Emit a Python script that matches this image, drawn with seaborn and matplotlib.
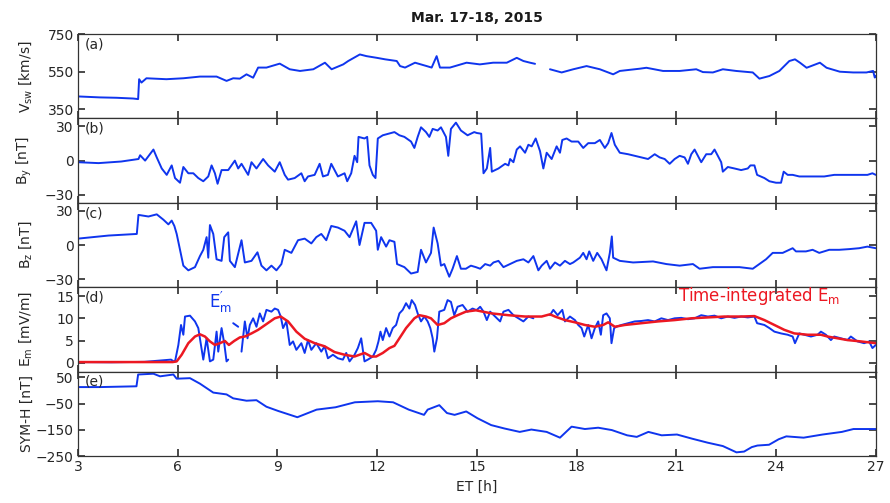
import numpy as np
import pandas as pd
import matplotlib
matplotlib.use("Agg")
import matplotlib.pyplot as plt
import seaborn as sns

# ---------------- data (ET in hours) ----------------
# Solar wind speed (data gap near 17 h)
vsw_t = [3.02, 3.66, 4.16, 4.66, 4.81, 4.84, 4.91, 5.06, 5.66, 6.17, 6.67, 7.17, 7.47, 7.67,
         7.87, 8.07, 8.27, 8.42, 8.67, 9.07, 9.37, 9.68, 10.08, 10.43, 10.63, 10.98, 11.13,
         11.48, 11.68, 11.99, 12.24, 12.59, 12.69, 12.84, 13.14, 13.49, 13.64, 13.79, 13.89,
         14.19, 14.69, 15.09, 15.49, 15.9, 16.2, 16.4, 16.6, 16.75,
         17.2, 17.55, 17.9, 18.3, 18.7, 19.1, 19.3, 19.9, 20.1, 20.6, 21.1, 21.6, 21.8,
         22.1, 22.4, 22.8, 23.3, 23.5, 23.8, 24.1, 24.4, 24.57, 24.72, 24.92, 25.32, 25.52,
         25.92, 26.32, 26.72, 26.92, 26.97, 27.0]
vsw_v = [417, 412, 410, 406, 403, 509, 491, 514, 509, 514, 523, 523, 500, 514,
         512, 535, 517, 571, 571, 592, 562, 553, 562, 597, 562, 588, 606,
         641, 632, 623, 615, 606, 579, 571, 597, 579, 571, 632, 571,
         571, 597, 588, 597, 597, 623, 606, 597, 591,
         562, 545, 562, 579, 562, 535, 553, 565, 570, 553, 553, 562, 547,
         545, 562, 553, 545, 512, 526, 553, 606, 615, 597, 570, 597, 570,
         549, 545, 545, 553, 518, 527]
vsw_breaks = [17.0]

# IMF By
by_t = [3.0, 3.62, 4.3, 4.82, 4.87, 5.02, 5.27, 5.37, 5.52, 5.67, 5.82, 5.92, 6.07, 6.17,
        6.32, 6.47, 6.62, 6.77, 6.92, 7.02, 7.12, 7.2, 7.32, 7.52, 7.72, 7.82, 7.92, 8.12,
        8.22, 8.37, 8.57, 8.72, 8.92, 9.07, 9.22, 9.32, 9.52, 9.72, 9.82, 9.92, 10.12, 10.27,
        10.37, 10.52, 10.62, 10.82, 11.02, 11.1, 11.22, 11.32, 11.4, 11.44, 11.62, 11.7,
        11.77, 11.87, 11.95, 12.02, 12.17, 12.52, 12.67, 12.82, 13.02, 13.12, 13.22, 13.32,
        13.47, 13.57, 13.67, 13.82, 13.92, 14.07, 14.14, 14.22, 14.37, 14.52, 14.72, 14.92,
        15.0, 15.13, 15.2, 15.3, 15.4, 15.45, 15.65, 15.85, 15.95, 16.0, 16.1, 16.2, 16.3,
        16.45, 16.55, 16.65, 16.77, 16.9, 17.0, 17.1, 17.25, 17.4, 17.5, 17.57, 17.7, 17.85,
        18.05, 18.2, 18.35, 18.55, 18.7, 18.85, 18.95, 19.05, 19.15, 19.3, 19.55, 19.75,
        19.95, 20.15, 20.35, 20.5, 20.65, 20.8, 20.95, 21.1, 21.25, 21.35, 21.45, 21.55,
        21.65, 21.75, 21.9, 22.05, 22.15, 22.25, 22.35, 22.4, 22.55, 22.75, 22.95, 23.15,
        23.23, 23.35, 23.43, 23.65, 23.8, 24.0, 24.15, 24.23, 24.35, 24.5, 24.7, 24.95,
        25.45, 25.75, 26.15, 26.75, 26.9, 27.0]
by_v = [-1.4, -2.2, -0.8, 1.4, 4.7, 0.0, 9.7, 2.8, -6.9, -12.5, -4.2, -15.3, -19.4, -5.6,
        -11.1, -11.1, -15.3, -18.1, -13.9, -4.2, -11.1, -20.3, -8.3, -8.3, 0.0, -6.9, -2.8, -12.5,
        -1.4, -6.9, 1.4, -4.2, -9.7, -1.4, -12.5, -16.7, -15.3, -11.1, -18.1, -13.9, -12.5, -2.8,
        -13.9, -12.5, -2.8, -13.9, -11.1, -18.1, -11.1, 4.2, -1.4, 20.8, 19.4, 20.8,
        -4.2, -12.5, -15.3, 19.4, 22.2, 25.0, 22.2, 20.8, 16.7, 11.1, 20.8, 29.2,
        25.0, 20.8, 27.8, 26.4, 29.2, 20.8, 4.2, 27.8, 33.3, 26.4, 22.2, 25.0,
        24.2, 23.6, -11.1, -6.9, 11.1, -9.7, -6.9, -2.8, -4.2, 1.4, -1.4, 9.7, 12.5,
        6.9, 13.9, 12.5, 19.4, 8.3, -6.9, 6.9, 1.4, 12.5, 6.9, 18.1, 19.4, 16.7,
        16.7, 11.1, 15.3, 15.3, 18.1, 11.1, 15.3, 24.2, 13.9, 6.9, 5.6, 4.2,
        2.8, 1.4, 5.6, 2.8, 1.4, -2.8, 1.4, 4.2, 2.8, -2.8, 5.6, 9.7,
        4.2, -1.4, 5.6, 5.6, 9.7, 4.2, -1.4, -9.7, -5.6, -6.9, -8.3, -6.9,
        -4.2, -4.2, -12.5, -15.3, -18.1, -19.4, -19.4, -9.7, -12.5, -12.5, -13.9, -13.9,
        -13.9, -12.5, -12.5, -12.5, -11.1, -12.5]

# IMF Bz
bz_t = [3.0, 3.92, 4.77, 4.82, 5.12, 5.37, 5.57, 5.72, 5.82, 5.9, 5.97, 6.07, 6.17, 6.32,
        6.52, 6.67, 6.77, 6.87, 6.92, 6.97, 7.07, 7.17, 7.32, 7.4, 7.52, 7.57, 7.72, 7.92,
        8.02, 8.22, 8.4, 8.52, 8.67, 8.82, 8.97, 9.12, 9.22, 9.42, 9.62, 9.82, 10.02, 10.17,
        10.32, 10.47, 10.62, 10.82, 11.02, 11.17, 11.37, 11.47, 11.62, 11.82, 11.97, 12.02,
        12.12, 12.27, 12.37, 12.52, 12.6, 12.82, 13.02, 13.22, 13.32, 13.47, 13.62, 13.7,
        13.82, 13.92, 14.02, 14.17, 14.27, 14.4, 14.52, 14.67, 14.82, 14.97,
        15.1, 15.25, 15.4, 15.5, 15.65, 15.8, 16.0, 16.2, 16.4, 16.55, 16.7, 16.85, 16.95,
        17.1, 17.2, 17.35, 17.5, 17.65, 17.8, 17.9, 18.1, 18.2, 18.3, 18.38, 18.5, 18.62,
        18.75, 18.9, 19.0, 19.06, 19.1, 19.3, 19.7, 20.3, 20.7, 21.1, 21.5, 21.7, 22.1,
        22.5, 22.9, 23.3, 23.5, 23.7, 23.9, 24.2, 24.5, 24.6, 24.9, 25.1, 25.3, 25.6,
        25.9, 26.2, 26.5, 26.75, 27.0]
bz_v = [5.6, 8.3, 9.7, 26.4, 25.0, 26.9, 22.2, 18.1, 21.4, 16.7, 9.7, -4.2, -18.1, -22.2,
        -19.4, -9.7, -4.2, 6.9, -11.1, 17.5, 9.7, -12.5, -13.9, 6.9, 11.1, -13.9, -19.4, 4.2,
        -15.3, -13.9, -6.4, -18.1, -22.2, -18.1, -22.2, -16.7, -4.2, -6.9, 4.2, 5.6, 1.4, 6.9,
        9.7, 4.2, 16.7, 15.3, 12.5, 6.9, 20.8, 0.0, 19.4, 19.4, 12.5, -4.2,
        6.9, -1.4, 4.2, 2.8, -16.7, -19.4, -25.0, -23.6, -4.2, -15.3, -6.9, 15.3,
        1.4, -18.1, -16.7, -27.8, -20.8, -9.7, -20.8, -20.8, -18.1, -19.4,
        -20.8, -16.7, -18.1, -15.3, -13.9, -19.4, -16.7, -13.9, -12.5, -15.3, -9.7, -22.2, -18.1,
        -13.9, -20.8, -15.3, -18.1, -13.9, -16.7, -15.3, -11.1, -6.9, -12.5, -5.6, -13.9, -6.9,
        -12.5, -22.2, -6.9, 7.5, -11.1, -13.9, -15.3, -14.4, -16.7, -18.1, -16.7, -20.8, -19.4,
        -19.4, -19.4, -20.8, -16.7, -12.5, -6.9, -6.9, -2.8, -5.6, -5.6, -4.2, -6.9, -4.2,
        -4.2, -3.6, -2.8, -1.4, -2.8]

# Merging electric field E'm
em_t = [3.0, 4.0, 5.0, 5.8, 5.9, 5.92, 6.02, 6.1, 6.17, 6.22, 6.37, 6.52, 6.62, 6.7, 6.77,
        6.87, 6.97, 7.07, 7.17, 7.22, 7.32, 7.4, 7.47, 7.52,
        7.67, 7.82,
        7.92, 8.02, 8.1, 8.17, 8.27, 8.37, 8.47, 8.57, 8.67, 8.82, 8.92, 9.02, 9.1, 9.17,
        9.27, 9.37, 9.47, 9.57, 9.72, 9.82, 9.92, 10.02, 10.17, 10.32, 10.42, 10.52, 10.67,
        10.82, 10.97, 11.07, 11.17, 11.32, 11.42, 11.52, 11.62, 11.72, 11.87, 11.97, 12.04,
        12.1, 12.17, 12.27, 12.37, 12.47, 12.57, 12.67, 12.77, 12.87, 12.97, 13.04, 13.14,
        13.22, 13.32, 13.42, 13.52, 13.6, 13.67, 13.72, 13.8, 13.87, 14.02, 14.12, 14.22,
        14.32, 14.42, 14.57, 14.72, 14.87, 14.97, 15.0, 15.1, 15.2, 15.3, 15.4, 15.55, 15.7,
        15.8, 15.95, 16.1, 16.25, 16.4, 16.55, 16.7,
        17.2, 17.3, 17.43, 17.57, 17.65, 17.8, 17.95, 18.05, 18.15, 18.23, 18.35, 18.45,
        18.55, 18.65, 18.73, 18.8, 18.9, 19.0, 19.05, 19.13, 19.2, 19.35, 19.55, 19.75,
        19.95, 20.15, 20.35, 20.55, 20.75, 20.95, 21.15, 21.35, 21.55, 21.75, 21.95, 22.15,
        22.35, 22.55, 22.75, 22.95, 23.15, 23.35, 23.43, 23.65, 23.8, 23.95, 24.15, 24.35,
        24.5, 24.57, 24.7, 24.85, 25.05, 25.25, 25.35, 25.5, 25.65, 25.75, 25.95, 26.15,
        26.25, 26.45, 26.65, 26.8, 26.9, 27.0]
em_v = [0.15, 0.1, 0.2, 0.7, 0.2, 0.3, 4.0, 8.5, 6.3, 10.4, 10.6, 9.3, 7.8, 4.0, 0.7,
        5.5, 0.3, 0.7, 7.0, 2.5, 7.8, 4.4, 0.3, 0.7,
        8.9, 8.1,
        2.5, 9.3, 5.5, 8.5, 10.0, 8.1, 11.1, 9.3, 11.9, 11.5, 12.2, 11.9, 10.4, 7.8,
        9.3, 4.0, 4.8, 2.9, 4.4, 2.2, 5.1, 2.9, 4.4, 2.5, 3.7, 1.0, 1.8,
        1.0, 0.7, 2.2, 0.3, 1.8, 3.3, 5.5, 0.3, 0.7, 1.4, 2.9, 4.8,
        7.0, 5.1, 7.8, 5.9, 7.8, 8.5, 11.1, 11.9, 13.4, 12.2, 14.1, 13.0,
        11.1, 9.3, 10.4, 9.3, 7.8, 5.5, 2.5, 5.5, 11.5, 11.9, 14.1, 13.7,
        10.7, 12.6, 13.0, 11.5, 12.2, 11.9, 11.9, 12.6, 11.5, 9.6, 11.5, 10.4, 9.3,
        11.5, 11.9, 10.7, 10.0, 9.3, 10.4, 10.0,
        10.7, 11.9, 10.7, 11.9, 9.3, 10.4, 9.6, 8.5, 7.8, 5.9, 8.5, 5.5,
        7.8, 9.3, 6.3, 10.7, 11.1, 10.0, 4.4, 7.8, 8.1, 8.5, 8.9, 9.3,
        9.4, 9.6, 9.3, 10.0, 9.6, 10.0, 10.1, 9.8, 10.0, 10.7, 10.4, 10.6,
        10.0, 10.4, 10.1, 10.4, 10.2, 10.4, 8.9, 8.5, 7.8, 7.0, 6.6, 6.3,
        5.9, 4.4, 6.6, 6.3, 5.9, 6.3, 7.0, 6.3, 5.1, 5.9, 5.5, 5.1,
        5.9, 4.8, 4.4, 4.8, 3.3, 4.0]
em_breaks = [7.6, 7.87, 17.0]

# Time-integrated merging electric field
emi_t = [3.0, 5.85, 5.97, 6.12, 6.32, 6.52, 6.67, 6.82, 6.97, 7.12, 7.27, 7.42, 7.54, 7.7,
         7.87, 8.02, 8.22, 8.42, 8.67, 8.92, 9.1, 9.32, 9.57, 9.82, 10.12, 10.42, 10.72,
         11.02, 11.32, 11.47, 11.62, 11.82, 11.97, 12.17, 12.37, 12.52, 12.67, 12.87, 13.12,
         13.27, 13.47, 13.62, 13.82, 14.02, 14.22, 14.42, 14.67, 14.97, 15.45, 15.95, 16.45,
         16.95, 17.2, 17.35, 17.65, 17.95, 18.25, 18.55, 18.8, 18.95, 19.15, 19.45, 19.95,
         20.45, 20.95, 21.45, 21.95, 22.45, 22.95, 23.35, 23.65, 23.95, 24.25, 24.55, 24.95,
         25.35, 25.55, 25.85, 26.15, 26.55, 27.0]
emi_v = [0.15, 0.15, 0.3, 1.8, 4.4, 5.9, 6.4, 5.9, 4.8, 4.0, 4.4, 4.9, 4.0, 4.9,
         5.7, 5.9, 6.6, 7.4, 8.7, 10.0, 10.4, 9.3, 7.0, 5.4, 4.4, 3.7, 2.4,
         1.8, 1.4, 1.8, 2.2, 1.4, 1.4, 2.2, 3.3, 3.8, 5.5, 7.8, 10.0,
         10.7, 10.4, 10.0, 8.5, 8.9, 10.0, 10.7, 11.5, 11.8, 11.1, 10.7, 10.4,
         10.4, 10.9, 10.4, 9.6, 9.1, 8.5, 8.1, 8.5, 9.1, 8.1, 8.5, 8.9,
         9.3, 9.6, 10.0, 10.2, 10.4, 10.4, 10.5, 9.6, 8.5, 7.4, 6.6, 6.3,
         6.3, 5.9, 5.5, 5.1, 4.8, 4.4]

# SYM-H index
symh_t = [3.02, 3.66, 4.76, 4.81, 5.27, 5.47, 5.87, 5.97, 6.37, 6.67, 7.07, 7.47, 7.67, 8.07,
          8.37, 8.67, 9.02, 9.6, 10.18, 10.75, 11.33, 12.02, 12.48, 12.95, 13.41, 13.52,
          13.87, 14.1, 14.33, 14.68, 15.02, 15.43, 15.83, 16.29, 16.64, 17.1, 17.5, 17.85,
          18.25, 18.65, 19.06, 19.52, 19.81, 20.16, 20.56, 21.02, 21.48, 21.94, 22.4, 22.81,
          23.04, 23.27, 23.44, 23.79, 24.08, 24.31, 24.83, 25.4, 25.98, 26.33, 27.0]
symh_v = [13, 13, 16, 61, 64, 54, 61, 45, 47, 26, -8, -15, -30, -39,
          -37, -62, -78, -102, -73, -64, -45, -41, -45, -73, -93, -73,
          -56, -86, -93, -80, -106, -132, -145, -158, -149, -158, -180, -138,
          -147, -142, -151, -171, -177, -158, -171, -168, -184, -199, -212, -236,
          -233, -216, -210, -207, -186, -175, -180, -168, -158, -147, -147]

x_ticks = [3, 6, 9, 12, 15, 18, 21, 24, 27]
panel_tags = ["(a)", "(b)", "(c)", "(d)", "(e)"]
y_labels = [r"V$_{sw}$ [km/s]", r"B$_y$ [nT]", r"B$_z$ [nT]", r"E$_m$ [mV/m]", "SYM-H [nT]"]
y_ticks = [[350, 550, 750], [-30, 0, 30], [-30, 0, 30], [0, 5, 10, 15], [-250, -150, -50, 50]]
y_lims = [(300, 750), (-37, 37), (-37, 37), (-2, 17), (-250, 72)]

# ---------------- style ----------------
sns.set_theme(style="ticks")
plt.rcParams.update({
    "font.family": ["DejaVu Sans"],
    "mathtext.default": "regular",
    "xtick.direction": "in",
    "ytick.direction": "in",
    "xtick.top": True,
    "ytick.right": True,
    "xtick.major.size": 5,
    "ytick.major.size": 5,
    "axes.edgecolor": "#333333",
    "axes.linewidth": 0.9,
    "xtick.color": "#333333",
    "ytick.color": "#333333",
    "xtick.labelcolor": "#262626",
    "ytick.labelcolor": "#262626",
    "font.size": 10,
})

BLUE = "#0f35ee"
RED = "#ec1822"

fig = plt.figure(figsize=(8.9, 5.03), dpi=100)
gs = fig.add_gridspec(5, 1, left=0.0876, right=0.984, top=0.9324, bottom=0.0934, hspace=0)
axes = [fig.add_subplot(gs[i]) for i in range(5)]


def draw(ax, t, v, color, breaks=(), lw=1.4):
    seg = np.searchsorted(np.asarray(breaks, dtype=float), np.asarray(t, dtype=float))
    df = pd.DataFrame({"t": t, "v": v, "seg": seg})
    sns.lineplot(data=df, x="t", y="v", units="seg", estimator=None, sort=False,
                 color=color, lw=lw, ax=ax)


draw(axes[0], vsw_t, vsw_v, BLUE, vsw_breaks)
draw(axes[1], by_t, by_v, BLUE)
draw(axes[2], bz_t, bz_v, BLUE)
draw(axes[3], em_t, em_v, BLUE, em_breaks)
draw(axes[3], emi_t, emi_v, RED, lw=1.8)
draw(axes[4], symh_t, symh_v, BLUE)

for i, ax in enumerate(axes):
    ax.set_xlim(3, 27)
    ax.set_ylim(*y_lims[i])
    ax.set_xticks(x_ticks)
    ax.set_yticks(y_ticks[i])
    ax.set_ylabel(y_labels[i], fontsize=10, color="#262626")
    ax.yaxis.set_label_coords(-0.055, 0.5)
    ax.tick_params(labelsize=10, pad=3)
    ax.text(0.008, 0.96, panel_tags[i], transform=ax.transAxes, ha="left", va="top",
            fontsize=10, color="#262626")
    if i < 4:
        ax.tick_params(labelbottom=False)
        ax.set_xlabel("")
    for s in ax.spines.values():
        s.set_visible(True)

axes[4].set_xlabel("ET [h]", fontsize=10, color="#262626")
axes[0].set_title("Mar. 17-18, 2015", fontsize=10, fontweight="bold", pad=9, color="#1a1a1a")

axes[3].text(7.3, 10.8, r"E$^{\prime}_{m}$", color=BLUE, fontsize=12, ha="center", va="bottom")
axes[3].text(21.05, 12.6, r"Time-integrated E$_m$", color=RED, fontsize=12, ha="left", va="bottom")

fig.savefig("out.png", dpi=100)
